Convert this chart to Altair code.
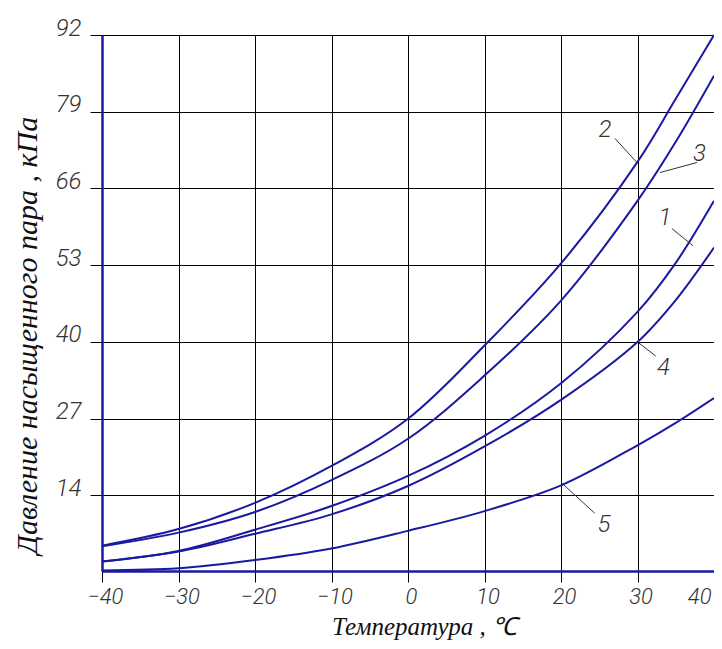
import altair as alt
import pandas as pd

temps = [-40, -30, -20, -10, 0, 10, 20, 30, 35, 40]
curve1 = [2.8, 4.6, 8.2, 12.2, 17.3, 24.1, 33.0, 45.1, 53.4, 63.9]
curve2 = [5.5, 8.3, 12.75, 19.0, 27.0, 39.4, 53.3, 70.5, 81.2, 92.0]
curve3 = [5.4, 7.7, 11.2, 16.6, 23.6, 34.3, 47.0, 63.9, 73.9, 85.1]
curve4 = [2.8, 4.5, 7.5, 10.8, 15.6, 22.3, 30.2, 40.0, 47.1, 56.0]
curve5 = [1.3, 1.65, 3.05, 5.0, 8.0, 11.35, 15.7, 22.5, 26.3, 30.5]

y_ticks = [14, 27, 40, 53, 66, 79, 92]
x_ticks = [-40, -30, -20, -10, 0, 10, 20, 30, 40]

label_names = ["1", "2", "3", "4", "5"]
label_t = [33.6, 25.75, 38.1, 33.4, 25.6]
label_v = [61.0, 75.9, 71.9, 35.6, 9.0]
leader_t1 = [34.5, 27.06, 37.78, 32.4, 24.4]
leader_v1 = [59.2, 74.46, 70.4, 37.6, 11.0]
leader_t2 = [37.25, 30.07, 32.94, 30.2, 20.1]
leader_v2 = [56.3, 70.2, 68.7, 39.8, 16.1]

BLUE = "#1a1aa0"
rows = []
for name, vals in zip(label_names, [curve1, curve2, curve3, curve4, curve5]):
    for t, v in zip(temps, vals):
        rows.append({"T": t, "P": v, "curve": name})
df = pd.DataFrame(rows)
lab = pd.DataFrame({"T": label_t, "P": label_v, "name": label_names})
lead = pd.DataFrame({"T": leader_t1, "P": leader_v1, "T2": leader_t2, "P2": leader_v2})

tick_font = "Roboto"
title_font = "Liberation Serif"

xs = alt.Scale(domain=[-40, 40], nice=False)
ys = alt.Scale(domain=[1.2, 92], nice=False, zero=False)

lines = alt.Chart(df).mark_line(color=BLUE, strokeWidth=2, interpolate="catmull-rom").encode(
    x=alt.X("T:Q", scale=xs, axis=alt.Axis(
        values=x_ticks, title="Температура ,  ℃", grid=True, gridColor="#000", gridWidth=1,
        gridOpacity=1, domainColor=BLUE, domainWidth=2.5, tickColor="#000", tickSize=11,
        tickWidth=1, labelFont=tick_font, labelFontSize=22, labelFontStyle="italic",
        labelFontWeight=300, labelColor="#333", labelPadding=4, labelFlush=False,
        labelAlign={"condition": {"test": "datum.value == 40", "value": "right"}, "value": "center"},
        labelOffset={"condition": {"test": "datum.value == 40", "value": -3}, "value": 3},
        titleFont=title_font, titleFontSize=25, titleFontStyle="italic",
        titleFontWeight="normal", titleColor="#111", titleX=322, titleY=63,
        titleBaseline="alphabetic")),
    y=alt.Y("P:Q", scale=ys, axis=alt.Axis(
        values=y_ticks, title="Давление насыщенного пара , кПа", grid=True, gridColor="#000",
        gridWidth=1, gridOpacity=1, domainColor=BLUE, domainWidth=2.5, tickColor="#000",
        tickSize=12, tickWidth=1, labelFont=tick_font, labelFontSize=24,
        labelFontStyle="italic", labelFontWeight=300, labelColor="#333", labelPadding=9,
        labelBaseline="alphabetic", labelFlush=False,
        titleFont=title_font, titleFontSize=30, titleFontStyle="italic",
        titleFontWeight="normal", titleColor="#111", titleX=-75, titleY=300,
        titleBaseline="middle", titleAngle=270)),
    detail="curve:N",
)

leaders = alt.Chart(lead).mark_rule(color="#333", strokeWidth=1).encode(
    x=alt.X("T:Q", scale=xs), y=alt.Y("P:Q", scale=ys), x2="T2:Q", y2="P2:Q")

texts = alt.Chart(lab).mark_text(font=tick_font, fontSize=24, fontStyle="italic",
                                 fontWeight=300, color="#333", align="center",
                                 baseline="middle").encode(
    x=alt.X("T:Q", scale=xs), y=alt.Y("P:Q", scale=ys), text="name:N")

chart = alt.layer(lines, leaders, texts).properties(
    width=612, height=536,
    autosize=alt.AutoSizeParams(type="none"),
    padding={"left": 94, "top": 27, "right": 0, "bottom": 70},
).configure_view(stroke=None).configure(background="white")

chart.save("out.html", embed_options={"renderer": "svg", "actions": False})
